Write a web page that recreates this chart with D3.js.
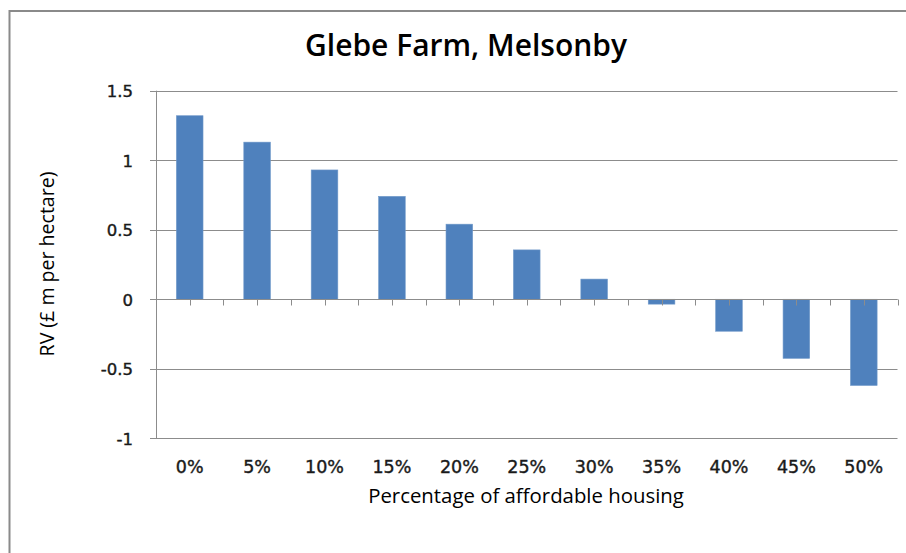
<!DOCTYPE html>
<html>
<head>
<meta charset="utf-8">
<script src="https://cdn.jsdelivr.net/npm/d3@7"></script>
<style>
  html, body { margin: 0; padding: 0; background: #fff; }
  svg { display: block; }
</style>
</head>
<body>
<script>
const categories = ["0%", "5%", "10%", "15%", "20%", "25%", "30%", "35%", "40%", "45%", "50%"];
const values = [1.32, 1.13, 0.93, 0.74, 0.54, 0.355, 0.145, -0.035, -0.23, -0.425, -0.62];
const yTicks = [1.5, 1, 0.5, 0, -0.5, -1];
const yTickLabels = ["1.5", "1", "0.5", "0", "-0.5", "-1"];
const title = "Glebe Farm, Melsonby";
const xTitle = "Percentage of affordable housing";
const yTitle = "RV (£ m per hectare)";

const W = 906, H = 553;
const svg = d3.select("body").append("svg").attr("width", W).attr("height", H);

// outer frame (left + top edges visible)
svg.append("path")
  .attr("d", `M9.5,${H} V11 H${W}`)
  .attr("fill", "none").attr("stroke", "#8a8a8a").attr("stroke-width", 2);

const plot = { left: 156, right: 897.5, top: 90.7, bottom: 438.3 };

const x = d3.scaleBand().domain(categories).range([plot.left, plot.right]).padding(0);
const y = d3.scaleLinear().domain([-1, 1.5]).range([plot.bottom, plot.top]);

// gridlines
svg.append("g").selectAll("line").data(yTicks).join("line")
  .attr("x1", plot.left - 6).attr("x2", plot.right)
  .attr("y1", d => Math.round(y(d)) + 0.5).attr("y2", d => Math.round(y(d)) + 0.5)
  .attr("stroke", "#8c8c8c").attr("stroke-width", 1);

// y axis line
svg.append("line")
  .attr("x1", plot.left + 0.5).attr("x2", plot.left + 0.5)
  .attr("y1", y(1.5)).attr("y2", y(-1))
  .attr("stroke", "#8c8c8c").attr("stroke-width", 1);

// bars
const barW = x.bandwidth() * 0.395;
svg.append("g").selectAll("rect").data(values).join("rect")
  .attr("x", (d, i) => x(categories[i]) + x.bandwidth() / 2 - barW / 2)
  .attr("width", barW)
  .attr("y", d => y(Math.max(0, d)))
  .attr("height", d => Math.abs(y(d) - y(0)))
  .attr("fill", "#4F81BD")
  .attr("stroke", "#6f98c9").attr("stroke-width", 0.6);

// zero axis line + ticks at half-category positions
const y0 = Math.round(y(0)) + 0.5;
svg.append("line")
  .attr("x1", plot.left).attr("x2", plot.right)
  .attr("y1", y0).attr("y2", y0)
  .attr("stroke", "#8c8c8c").attr("stroke-width", 1);
const tickPos = [];
categories.forEach(c => { tickPos.push(x(c)); tickPos.push(x(c) + x.bandwidth() / 2); });
tickPos.push(plot.right);
svg.append("g").selectAll("line").data(tickPos.slice(1)).join("line")
  .attr("x1", d => Math.round(d) + 0.5).attr("x2", d => Math.round(d) + 0.5)
  .attr("y1", y0).attr("y2", y0 + 6)
  .attr("stroke", "#8c8c8c").attr("stroke-width", 1);

// y tick labels
svg.append("g").selectAll("text").data(yTicks).join("text")
  .attr("x", 133).attr("y", d => y(d) + 6.5)
  .attr("text-anchor", "end")
  .attr("font-family", "DejaVu Sans, Verdana, sans-serif")
  .attr("font-size", 16.5)
  .attr("fill", "#1a1a1a")
  .attr("stroke", "#1a1a1a").attr("stroke-width", 0.4)
  .text((d, i) => yTickLabels[i]);

// x tick labels
svg.append("g").selectAll("text").data(categories).join("text")
  .attr("x", d => x(d) + x.bandwidth() / 2)
  .attr("y", 472.5)
  .attr("text-anchor", "middle")
  .attr("font-family", "DejaVu Sans, Verdana, sans-serif")
  .attr("font-size", 17.5)
  .attr("fill", "#1a1a1a")
  .attr("stroke", "#1a1a1a").attr("stroke-width", 0.4)
  .text(d => d);

function fit(sel, target) {
  const len = sel.node().getComputedTextLength();
  const fs = parseFloat(sel.attr("font-size"));
  sel.attr("font-size", fs * target / len);
}

// title
const t = svg.append("text")
  .attr("x", 466).attr("y", 56)
  .attr("text-anchor", "middle")
  .attr("font-family", "Open Sans, sans-serif")
  .attr("font-weight", 600)
  .attr("font-size", 26)
  .attr("fill", "#000")
  .text(title);
fit(t, 322);

// x axis title
const xt = svg.append("text")
  .attr("x", 526).attr("y", 503)
  .attr("text-anchor", "middle")
  .attr("font-family", "Open Sans, sans-serif")
  .attr("font-size", 17)
  .attr("fill", "#000")
  .text(xTitle);
fit(xt, 316);

// y axis title
const yt = svg.append("text")
  .attr("transform", "translate(54,264) rotate(-90)")
  .attr("text-anchor", "middle")
  .attr("font-family", "Open Sans, sans-serif")
  .attr("font-size", 16)
  .attr("fill", "#000")
  .text(yTitle);
fit(yt, 185);
</script>
</body>
</html>
